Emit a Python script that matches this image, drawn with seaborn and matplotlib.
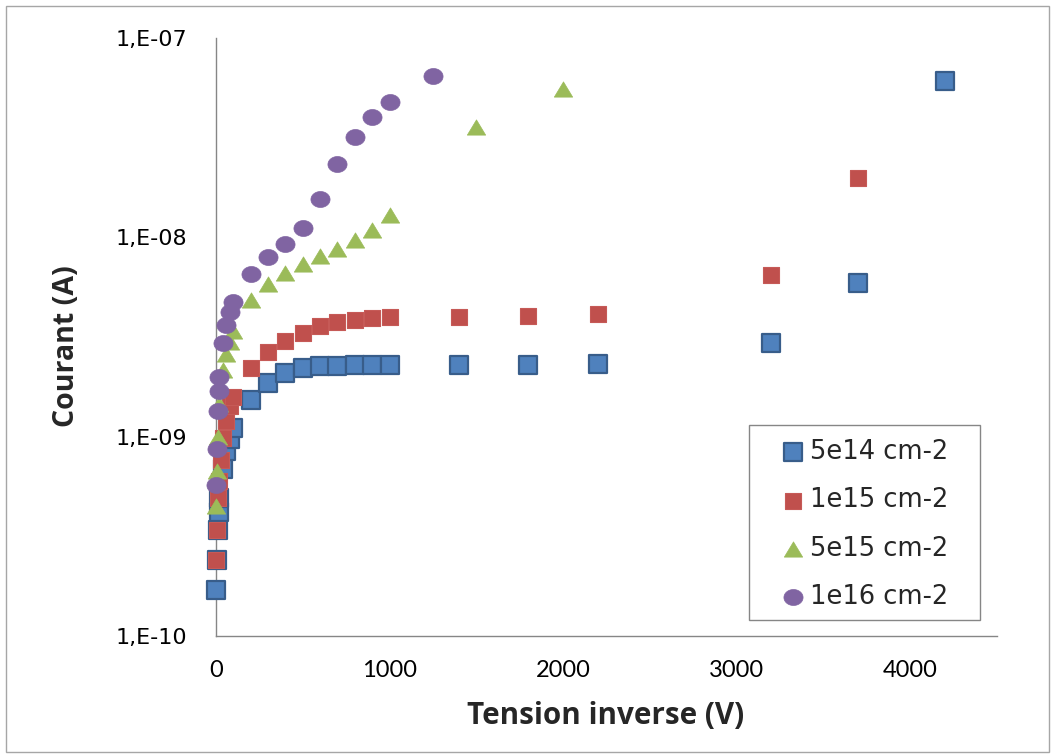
import numpy as np
import pandas as pd
import matplotlib
matplotlib.use("Agg")
import matplotlib.pyplot as plt
import seaborn as sns
from matplotlib.path import Path
from matplotlib.patches import Rectangle
from matplotlib.ticker import FixedLocator, FuncFormatter, NullLocator

# ---------------- data ----------------
labels = ["5e14 cm-2", "1e15 cm-2", "5e15 cm-2", "1e16 cm-2"]

x_5e14 = [0, 5, 10, 15, 20, 40, 60, 80, 100, 200, 300, 400, 500, 600, 700, 800, 900, 1000,
          1400, 1800, 2200, 3200, 3700, 4200]
y_5e14 = [1.7e-10, 2.4e-10, 3.4e-10, 4.2e-10, 4.9e-10, 6.9e-10, 8.5e-10, 9.7e-10, 1.1e-9,
          1.52e-9, 1.85e-9, 2.08e-9, 2.21e-9, 2.26e-9, 2.27e-9, 2.28e-9, 2.28e-9, 2.28e-9,
          2.29e-9, 2.30e-9, 2.32e-9, 2.95e-9, 5.9e-9, 6.1e-8]

x_1e15 = [0, 5, 10, 20, 30, 40, 60, 80, 100, 200, 300, 400, 500, 600, 700, 800, 900, 1000,
          1400, 1800, 2200, 3200, 3700]
y_1e15 = [2.4e-10, 3.4e-10, 4.9e-10, 6.0e-10, 7.6e-10, 9.8e-10, 1.2e-9, 1.42e-9, 1.58e-9,
          2.21e-9, 2.65e-9, 3.01e-9, 3.32e-9, 3.58e-9, 3.75e-9, 3.87e-9, 3.95e-9, 3.98e-9,
          4.0e-9, 4.05e-9, 4.12e-9, 6.45e-9, 1.98e-8]

x_5e15 = [0, 5, 10, 20, 40, 60, 80, 100, 200, 300, 400, 500, 600, 700, 800, 900, 1000,
          1500, 2000]
y_5e15 = [4.5e-10, 6.7e-10, 1.0e-9, 1.46e-9, 2.15e-9, 2.6e-9, 3.0e-9, 3.4e-9,
          4.83e-9, 5.85e-9, 6.65e-9, 7.37e-9, 8.05e-9, 8.78e-9, 9.66e-9, 1.09e-8, 1.30e-8,
          3.58e-8, 5.52e-8]

x_1e16 = [0, 5, 10, 15, 20, 40, 60, 80, 100, 200, 300, 400, 500, 600, 700, 800, 900, 1000,
          1250]
y_1e16 = [5.7e-10, 8.7e-10, 1.34e-9, 1.70e-9, 2.0e-9, 2.94e-9, 3.64e-9, 4.21e-9, 4.73e-9,
          6.57e-9, 7.93e-9, 9.22e-9, 1.11e-8, 1.55e-8, 2.32e-8, 3.18e-8, 4.01e-8, 4.78e-8,
          6.46e-8]

x_ticks = [0, 1000, 2000, 3000, 4000]
y_ticks = [1e-10, 1e-9, 1e-8, 1e-7]

# ---------------- style ----------------
sns.set_theme(style="white")
plt.rcParams["font.family"] = ["DejaVu Sans"]

fig = plt.figure(figsize=(10.54, 7.56), dpi=100)
ax = fig.add_axes([216 / 1054, 1 - 636 / 756, 781 / 1054, 598 / 756])
ax.set_yscale("log")

t = np.linspace(0, 2 * np.pi, 61)
ellipse = Path(np.c_[1.2 * np.cos(t), np.sin(t)], closed=True)
triangle = Path([(0, 0.83), (-1, -0.83), (1, -0.83), (0, 0.83)], closed=True)

series = [
    (x_5e14, y_5e14, labels[0], "s", 150, "#4f81bd", "#385d8a", 1.6),
    (x_1e15, y_1e15, labels[1], "s", 140, "#c0504d", "#c65a57", 0.8),
    (x_5e15, y_5e15, labels[2], triangle, 175, "#9bbb59", "#9bbb59", 0.5),
    (x_1e16, y_1e16, labels[3], ellipse, 190, "#8064a2", "#8064a2", 0.5),
]

for xs, ys, lab, mk, sz, fc, ec, lw in series:
    df = pd.DataFrame({"x": xs, "y": ys})
    sns.scatterplot(data=df, x="x", y="y", ax=ax, marker=mk, s=sz, color=fc,
                    edgecolor=ec, linewidth=lw, label=lab, clip_on=False, zorder=3)

ax.set_xlim(0, 4500)
ax.set_ylim(1e-10, 1e-7)
ax.xaxis.set_major_locator(FixedLocator(x_ticks))
ax.yaxis.set_major_locator(FixedLocator(y_ticks))
ax.yaxis.set_minor_locator(NullLocator())
ax.xaxis.set_minor_locator(NullLocator())
ax.yaxis.set_major_formatter(FuncFormatter(lambda v, p: "1,E-%02d" % round(-np.log10(v))))
ax.xaxis.set_major_formatter(FuncFormatter(lambda v, p: "%d" % v))

for side in ["top", "right"]:
    ax.spines[side].set_visible(False)
for side in ["left", "bottom"]:
    ax.spines[side].set_color("#868686")
    ax.spines[side].set_linewidth(1.0)

ax.tick_params(axis="both", which="major", direction="out", length=7, width=1,
               color="#868686", labelcolor="black")
ax.tick_params(axis="y", labelsize=16, pad=14)
ax.tick_params(axis="x", labelsize=17, pad=10)
for lbl in ax.get_xticklabels():
    lbl.set_fontfamily("Lato")

ax.set_xlabel("Tension inverse (V)", fontsize=21.3, fontweight="bold", family="Open Sans",
              va="center")
ax.xaxis.set_label_coords((606 - 216) / 781, (636 - 716) / 598)
ax.set_ylabel("Courant (A)", fontsize=20.5, fontweight="bold", family="Open Sans", va="center")
ax.yaxis.set_label_coords((66 - 216) / 781, (636 - 346) / 598)

# legend frame and legend
ax.add_patch(Rectangle((0.6825, 0.0268), 0.2955, 0.3261, transform=ax.transAxes,
                       facecolor="white", edgecolor="#868686", lw=1, zorder=4))
handles, labs = ax.get_legend_handles_labels()
leg = ax.legend(handles, labs, loc="center left", bbox_to_anchor=(0.7222, 0.1865),
                frameon=False, fontsize=18.5, handlelength=1.0, handletextpad=0.15,
                labelspacing=0.87, borderpad=0, borderaxespad=0, scatterpoints=1)
leg.set_zorder(5)

fig.add_artist(Rectangle((6 / 1054, 4 / 756), 1043 / 1054, 746 / 756,
                         transform=fig.transFigure, fill=False,
                         edgecolor="#a6a6a6", lw=1))

fig.savefig("out.png", dpi=100)
